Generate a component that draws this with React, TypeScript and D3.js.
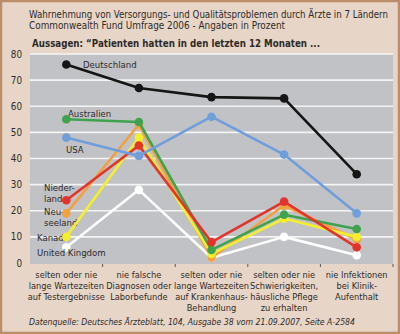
import React from "react";
import * as d3 from "d3";

const categories = ["c1", "c2", "c3", "c4", "c5"];
const categoryLabels = [
  ["selten oder nie", "lange Wartezeiten", "auf Testergebnisse"],
  ["nie falsche", "Diagnosen oder", "Laborbefunde"],
  ["selten oder nie", "lange Wartezeiten", "auf Krankenhaus-", "Behandlung"],
  ["selten oder nie", "Schwierigkeiten,", "häusliche Pflege", "zu erhalten"],
  ["nie Infektionen", "bei Klinik-", "Aufenthalt"],
];
const yTicks = [0, 10, 20, 30, 40, 50, 60, 70, 80];

const unitedKingdom = [6, 28, 2, 10, 3];
const neuseeland = [19, 53, 2, 22, 9];
const kanada = [10, 48, 3.5, 17, 10];
const australien = [55, 54, 5, 18.5, 13];
const niederlande = [24, 45, 8, 23.5, 6];
const usa = [48, 41, 56, 41.5, 19];
const deutschland = [76, 67, 63.5, 63, 34];

const seriesNames = ["United Kingdom", "Neuseeland", "Kanada", "Australien", "Niederlande", "USA", "Deutschland"];
const seriesValues = [unitedKingdom, neuseeland, kanada, australien, niederlande, usa, deutschland];
const seriesColors = ["#ffffff", "#f2a040", "#f4ee2e", "#3fa34d", "#e3342c", "#6f9edb", "#151515"];

const FONT = "'DejaVu Sans Condensed', 'DejaVu Sans', sans-serif";
const TEXT = "#2e2a27";

export default function App() {
  const W = 400, H = 334;
  const left = 30, right = 393, top = 54, bottom = 263;
  const xBand = d3.scaleBand<string>().domain(categories).range([left, right]);
  const x = (i: number) => (xBand(categories[i]) as number) + xBand.bandwidth() / 2;
  const y = d3.scaleLinear().domain([0, 80]).range([bottom, top]);
  const line = d3.line<number>().x((_, i) => x(i)).y((d) => y(d));

  const boundaries = categories.map((c) => (xBand(c) as number) + xBand.bandwidth());

  return (
    <svg width={W} height={H} style={{ display: "block", position: "absolute", left: 0, top: 0 }} fontFamily={FONT}>
      <rect x={1} y={1} width={W - 2} height={H - 2} fill="#e7d6c8" stroke="#bb8e69" strokeWidth={2.5} />
      <text x={29} y={18} fontSize={9.8} fill={TEXT} textLength={359} lengthAdjust="spacingAndGlyphs">
        Wahrnehmung von Versorgungs- und Qualitätsproblemen durch Ärzte in 7 Ländern
      </text>
      <text x={29} y={28.5} fontSize={9.8} fill={TEXT} textLength={256} lengthAdjust="spacingAndGlyphs">
        Commonwealth Fund Umfrage  2006 - Angaben in Prozent
      </text>
      <text x={32} y={47} fontSize={10} fontWeight="bold" fill={TEXT} textLength={288} lengthAdjust="spacingAndGlyphs">
        Aussagen: “Patienten hatten in den letzten 12 Monaten ...
      </text>

      <rect x={left} y={top} width={right - left} height={bottom - top + 1} fill="#c1c2c6" />
      {yTicks.filter((t) => t > 0).map((t) => (
        <line key={t} x1={left} x2={right} y1={y(t)} y2={y(t)} stroke="#f4f4f4" strokeWidth={1.6} />
      ))}
      {yTicks.map((t) => (
        <text key={t} x={22} y={y(t) + 3.5} fontSize={9.8} textAnchor="end" fill={TEXT}>
          {t}
        </text>
      ))}
      {boundaries.map((b, i) => (
        <line key={i} x1={b} x2={b} y1={bottom + 1} y2={bottom + 4} stroke="#555" strokeWidth={1} />
      ))}
      {categoryLabels.map((lines, i) => (
        <text key={i} x={x(i)} y={278} fontSize={9.2} textAnchor="middle" fill={TEXT}>
          {lines.map((l, j) => (
            <tspan key={j} x={x(i)} dy={j === 0 ? 0 : 11}>
              {l}
            </tspan>
          ))}
        </text>
      ))}

      <g fontSize={9.5} fill={TEXT}>
        <text x={83} y={68}>Deutschland</text>
        <text x={68} y={117}>Australien</text>
        <text x={66} y={153}>USA</text>
        <text x={44} y={191}>Nieder-</text>
        <text x={44} y={202}>lande</text>
        <text x={44} y={215}>Neu-</text>
        <text x={44} y={226}>seeland</text>
        <text x={37} y={241}>Kanada</text>
      </g>

      {seriesValues.map((vals, s) => (
        <g key={seriesNames[s]}>
          <path d={line(vals) as string} fill="none" stroke={seriesColors[s]} strokeWidth={2.6} strokeLinejoin="round" />
          {vals.map((v, i) => (
            <circle key={i} cx={x(i)} cy={y(v)} r={4.3} fill={seriesColors[s]} />
          ))}
        </g>
      ))}
      <text x={37} y={256} fontSize={9.5} fill={TEXT}>United Kingdom</text>

      <text x={29} y={325} fontSize={9.3} fontStyle="italic" fill={TEXT} textLength={326} lengthAdjust="spacingAndGlyphs">
        Datenquelle: Deutsches Ärzteblatt, 104, Ausgabe 38 vom 21.09.2007, Seite A-2584
      </text>
    </svg>
  );
}
